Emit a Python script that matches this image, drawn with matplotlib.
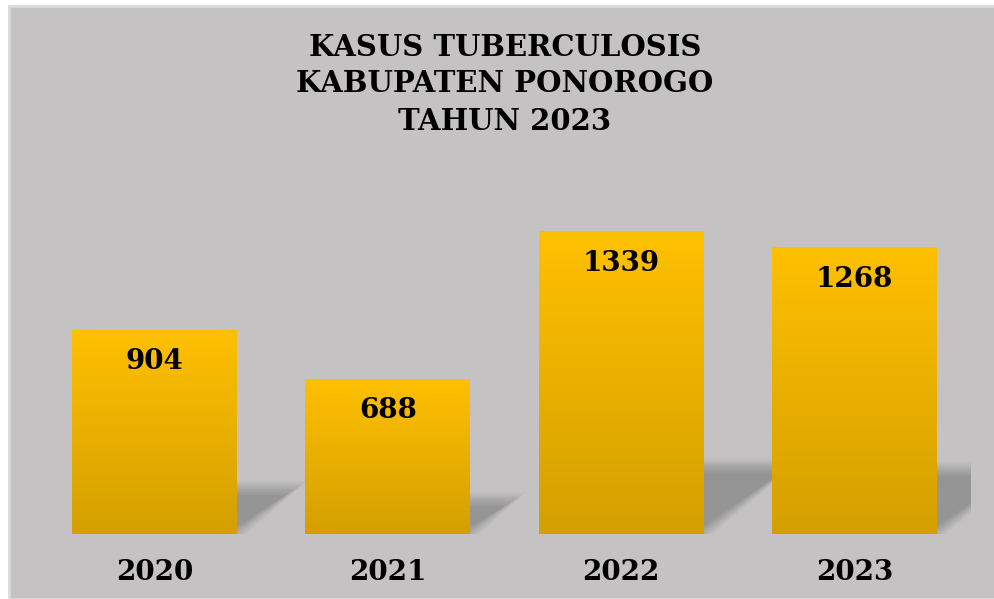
import numpy as np
import matplotlib
matplotlib.use('Agg')
import matplotlib.pyplot as plt
from matplotlib.patches import Rectangle, Polygon
from matplotlib.colors import LinearSegmentedColormap

# data
years = ['2020', '2021', '2022', '2023']
cases = [904, 688, 1339, 1268]
title_lines = ['KASUS TUBERCULOSIS', 'KABUPATEN PONOROGO', 'TAHUN 2023']

bg = '#C4C2C3'
font = 'DejaVu Serif'

fig = plt.figure(figsize=(9.95, 5.99), dpi=100)
fig.patch.set_facecolor('white')
# grey panel with a faint light edge
fig.patches.append(Rectangle((9 / 995, 0), 1, 1 - 6 / 599, transform=fig.transFigure,
                             facecolor=bg, edgecolor='#DADADA', linewidth=2, zorder=-5))

ax = fig.add_axes([0.038, 0.1085, 0.938, 0.7245])
ax.set_facecolor('none')
ax.set_zorder(2)
ymax = 1920
x = np.arange(len(years))

bars = ax.bar(x, cases, width=0.707, color='none', edgecolor='none', zorder=3)
ax.set_xlim(-0.5, len(years) - 0.5)
ax.set_ylim(0, ymax)

# pixel scales for the shadow geometry
ax_w_px = 995 * 0.938
ax_h_px = 599 * 0.7245
px_x = ax_w_px / len(years)
px_y = ax_h_px / ymax

# gold vertical gradient
gold = LinearSegmentedColormap.from_list('gold', ['#D4A000', '#FFC000'], N=512)
grad = np.linspace(0, 1, 512).reshape(-1, 1)

for b in bars:
    x0 = b.get_x()
    w = b.get_width()
    h = b.get_height()
    x1 = x0 + w

    # soft floor shadow, skewed to the upper right (stacked layers fake a blur)
    rise = 0.23 * h
    dx = rise * px_y * 1.3 / px_x
    for t in np.arange(-6, 10, 1.6):
        tx = t * 1.5 / px_x
        ty = t / px_y
        poly = Polygon([(x0, 0), (x1 - tx, 0), (x1 + dx - tx, rise - ty),
                        (x0 + dx, rise - ty)], closed=True,
                       facecolor='black', edgecolor='none', alpha=0.024, zorder=1)
        ax.add_patch(poly)

    im = ax.imshow(grad, cmap=gold, extent=(x0, x1, 0, h), origin='lower',
                   aspect='auto', zorder=3, interpolation='bilinear')
    im.set_clip_path(b)

    ax.annotate(f'{h:.0f}', (x0 + w / 2, h), xytext=(0, -23), textcoords='offset points',
                ha='center', va='center', fontsize=20, fontweight='bold',
                family=font, color='black', zorder=5)

ax.set_xlim(-0.5, len(years) - 0.5)
ax.set_ylim(0, ymax)
ax.set_xticks(x)
ax.set_xticklabels(years, fontsize=20, fontweight='bold', family=font)
ax.tick_params(axis='x', length=0, pad=18)
ax.set_yticks([])
for s in ax.spines.values():
    s.set_visible(False)

for i, line in enumerate(title_lines):
    fig.text(0.5075, 1 - (47 + 37 * i) / 599, line, ha='center', va='center',
             fontsize=21, fontweight='bold', family=font, color='black')

fig.savefig('out.png', dpi=100, facecolor=fig.get_facecolor())
